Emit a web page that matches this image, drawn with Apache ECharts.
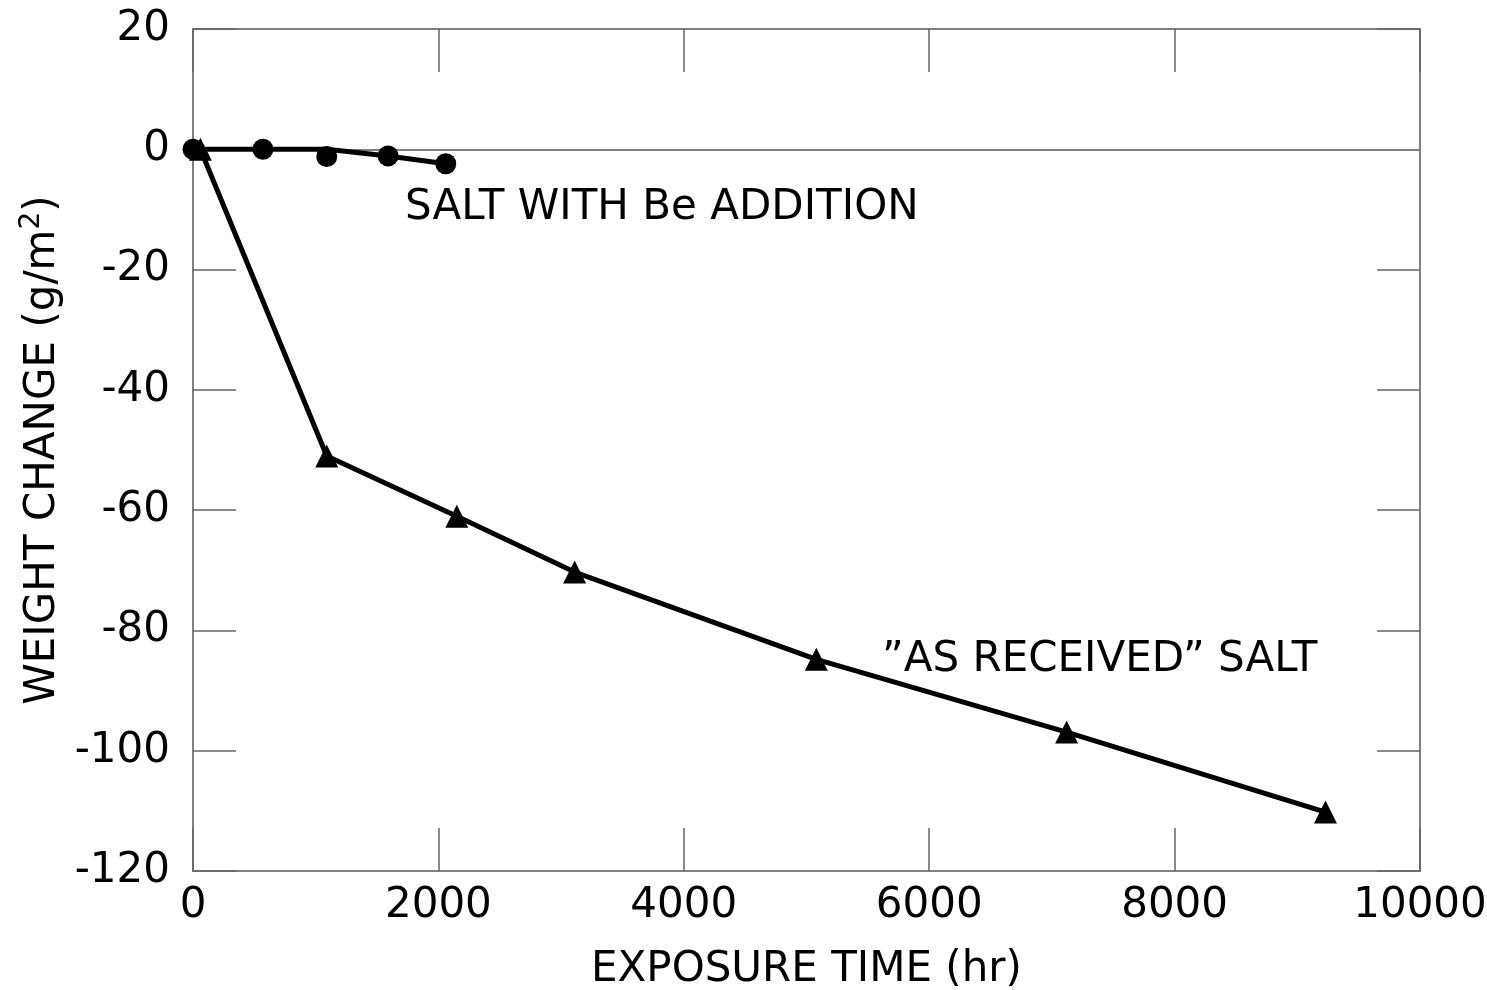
<!DOCTYPE html>
<html>
<head>
<meta charset="utf-8">
<script src="https://cdn.jsdelivr.net/npm/echarts@6/dist/echarts.min.js"></script>
<style>
    html, body { margin: 0; padding: 0; background: #fff; }
    #chart { width: 1487px; height: 990px; }
</style>
</head>
<body>
<div id="chart"></div>
<script>
    // salt with Be addition - measured points
    var beHours = [0, 570, 1090, 1590, 2060];
    var beWeight = [0, 0, -1.2, -1.1, -2.4];
    // drawn curve through the Be points
    var beCurveHours = [0, 1090, 1590, 2060];
    var beCurveWeight = [0, 0, -1.1, -2.4];
    // "as received" salt
    var arHours = [60, 1090, 2150, 3110, 5080, 7120, 9230];
    var arWeight = [0, -51, -61, -70.3, -84.8, -96.9, -110.2];

    var xTicks = [0, 2000, 4000, 6000, 8000, 10000];
    var yTicks = [20, 0, -20, -40, -60, -80, -100, -120];

    var font = '"DejaVu Sans", sans-serif';
    var tickColor = '#666';

    function pairs(xs, ys) {
        return xs.map(function (x, i) { return [x, ys[i]]; });
    }

    var chart = echarts.init(document.getElementById('chart'));

    var baseX = {
        type: 'value',
        min: xTicks[0],
        max: xTicks[xTicks.length - 1],
        interval: 2000,
        axisLine: { show: false, onZero: false },
        splitLine: { show: false },
        axisTick: { show: true, inside: true, length: 43, lineStyle: { color: tickColor, width: 1.5 } }
    };
    var baseY = {
        type: 'value',
        min: yTicks[yTicks.length - 1],
        max: yTicks[0],
        interval: 20,
        axisLine: { show: false, onZero: false },
        splitLine: { show: false },
        axisTick: { show: true, inside: true, length: 43, lineStyle: { color: tickColor, width: 1.5 } }
    };

    var option = {
        animation: false,
        backgroundColor: '#fff',
        grid: {
            left: 193, right: 67, top: 29, bottom: 119,
            containLabel: false,
            outerBoundsMode: 'none',
            show: true,
            borderColor: '#808080',
            borderWidth: 2
        },
        xAxis: [
            Object.assign({}, baseX, {
                position: 'bottom',
                name: 'EXPOSURE TIME (hr)',
                nameLocation: 'middle',
                nameGap: 78,
                nameTextStyle: { color: '#000', fontSize: 42, fontFamily: font },
                axisLabel: {
                    color: '#000', fontSize: 42, fontFamily: font, margin: 14,
                    formatter: function (v) { return String(v); }
                }
            }),
            Object.assign({}, baseX, {
                position: 'top',
                axisLabel: { show: false }
            })
        ],
        yAxis: [
            Object.assign({}, baseY, {
                position: 'left',
                name: '{a|WEIGHT CHANGE (g/m}{s|2}{a|)}',
                nameLocation: 'middle',
                nameGap: 125,
                nameTextStyle: {
                    color: '#000', fontSize: 42, fontFamily: font,
                    rich: {
                        a: { color: '#000', fontSize: 42, fontFamily: font },
                        s: { color: '#000', fontSize: 28, fontFamily: font, padding: [0, 0, 22, 0] }
                    }
                },
                axisLabel: {
                    color: '#000', fontSize: 42, fontFamily: font, margin: 23,
                    formatter: function (v) { return String(v); }
                }
            }),
            Object.assign({}, baseY, {
                position: 'right',
                axisLabel: { show: false }
            })
        ],
        series: [
            {
                name: 'Be curve',
                type: 'line',
                data: pairs(beCurveHours, beCurveWeight),
                symbol: 'none',
                lineStyle: { color: '#000', width: 5 },
                z: 3,
                markLine: {
                    silent: true,
                    symbol: 'none',
                    label: { show: false },
                    lineStyle: { color: '#808080', width: 2, type: 'solid' },
                    data: [{ yAxis: 0 }],
                    z: 1
                }
            },
            {
                name: 'SALT WITH Be ADDITION',
                type: 'scatter',
                data: pairs(beHours, beWeight),
                symbol: 'circle',
                symbolSize: 21,
                itemStyle: { color: '#000', opacity: 1 },
                z: 4
            },
            {
                name: 'AS RECEIVED SALT',
                type: 'line',
                data: pairs(arHours, arWeight),
                symbol: 'triangle',
                symbolSize: 23,
                showAllSymbol: true,
                itemStyle: { color: '#000', opacity: 1 },
                lineStyle: { color: '#000', width: 5 },
                z: 4
            }
        ],
        graphic: [
            {
                type: 'text', left: 405, top: 187,
                style: { text: 'SALT WITH Be ADDITION', fill: '#000', font: '42px ' + font }
            },
            {
                type: 'text', left: 882, top: 639,
                style: { text: '”AS RECEIVED” SALT', fill: '#000', font: '42px ' + font }
            }
        ]
    };

    chart.setOption(option);
</script>
</body>
</html>
